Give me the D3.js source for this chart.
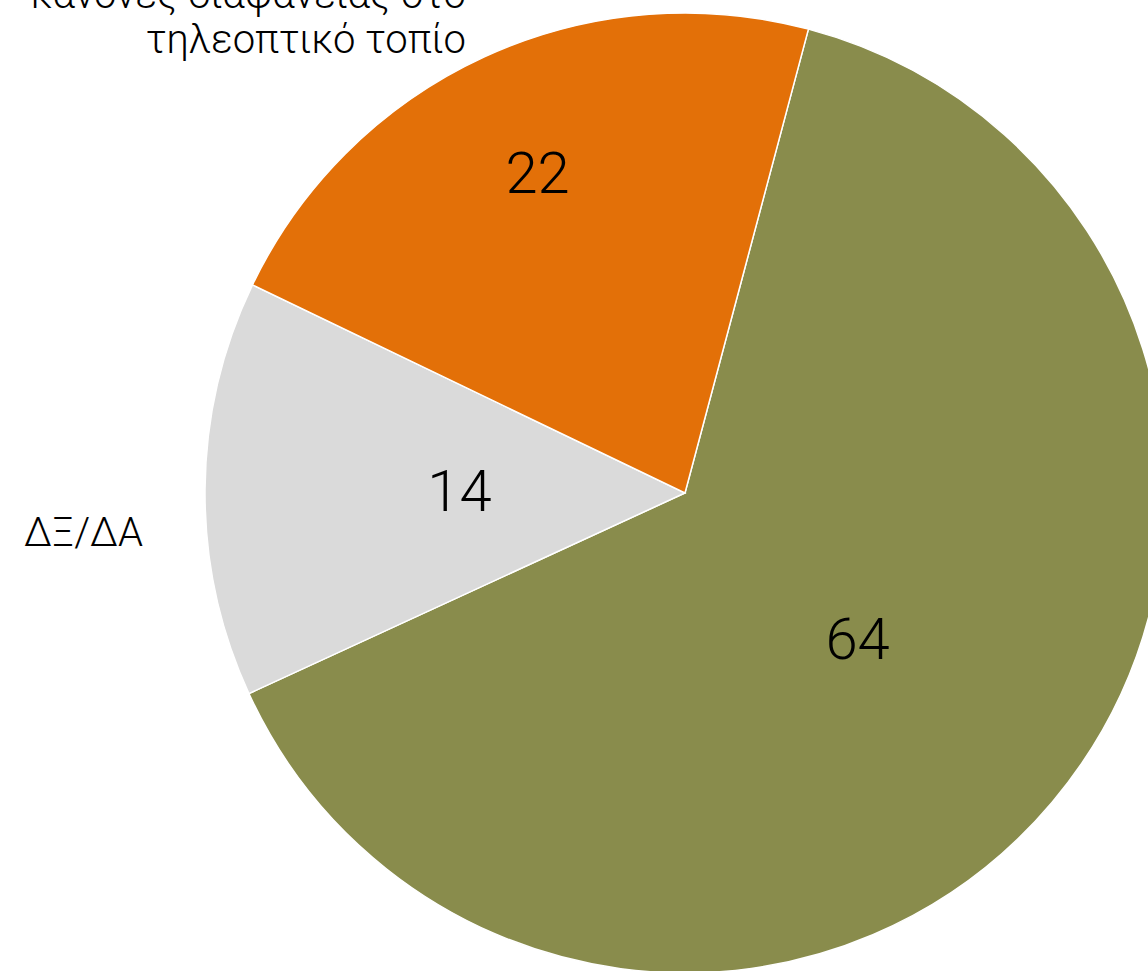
<!DOCTYPE html>
<html>
<head>
<meta charset="utf-8">
<title>Pie</title>
<script src="https://d3js.org/d3.v7.min.js"></script>
<style>
  body { margin: 0; background: #fff; }
  text { font-family: "Helvetica Neue", Roboto, "Liberation Sans", sans-serif; }
</style>
</head>
<body>
<script>
var w = 1148, h = 971;
var categories = ["green", "ΔΞ/ΔΑ", "κανόνες διαφάνειας στο|τηλεοπτικό τοπίο"];
var values = [64, 14, 22];
var colors = ["#898C4C", "#DADADA", "#E37008"];

var cx = 685, cy = 493, r = 480;
var svg = d3.select("body").append("svg")
    .attr("width", w)
    .attr("height", h);

var g = svg.append("g").attr("transform", "translate(" + cx + "," + cy + ")");

var pie = d3.pie().sort(null)
    .startAngle(14.9 * Math.PI / 180)
    .endAngle((14.9 + 360) * Math.PI / 180);
var arcs = pie(values);
var arc = d3.arc().innerRadius(0).outerRadius(r);

g.selectAll("path")
    .data(arcs)
    .enter()
    .append("path")
    .attr("d", arc)
    .attr("fill", function(d, i) { return colors[i]; })
    .attr("stroke", "#fff")
    .attr("stroke-width", 1.5);

// value labels, pushed in/out a bit like the original
var labelR = [0.47, 0.47, 0.735];
g.selectAll("text.val")
    .data(arcs)
    .enter()
    .append("text")
    .attr("class", "val")
    .attr("transform", function(d, i) {
        var a = d3.arc().innerRadius(r * labelR[i] * 2).outerRadius(0);
        var c = a.centroid(d);
        return "translate(" + c[0] + "," + c[1] + ")";
    })
    .attr("text-anchor", "middle")
    .attr("dy", "0.35em")
    .attr("font-size", 58)
    .attr("font-weight", 300)
    .attr("fill", "#000")
    .text(function(d) { return d.data; });

// outside category labels (top one is cut by the edge, same as the original)
var outside = [
    { i: 1, x: 143, y: 546 },
    { i: 2, x: 466, y: 8 }
];
outside.forEach(function(o) {
    var lines = categories[o.i].split("|");
    var t = svg.append("text")
        .attr("text-anchor", "end")
        .attr("font-size", 40)
        .attr("font-weight", 300)
        .attr("fill", "#000");
    lines.forEach(function(l, k) {
        t.append("tspan").attr("x", o.x).attr("y", o.y + k * 45).text(l);
    });
});
</script>
</body>
</html>
